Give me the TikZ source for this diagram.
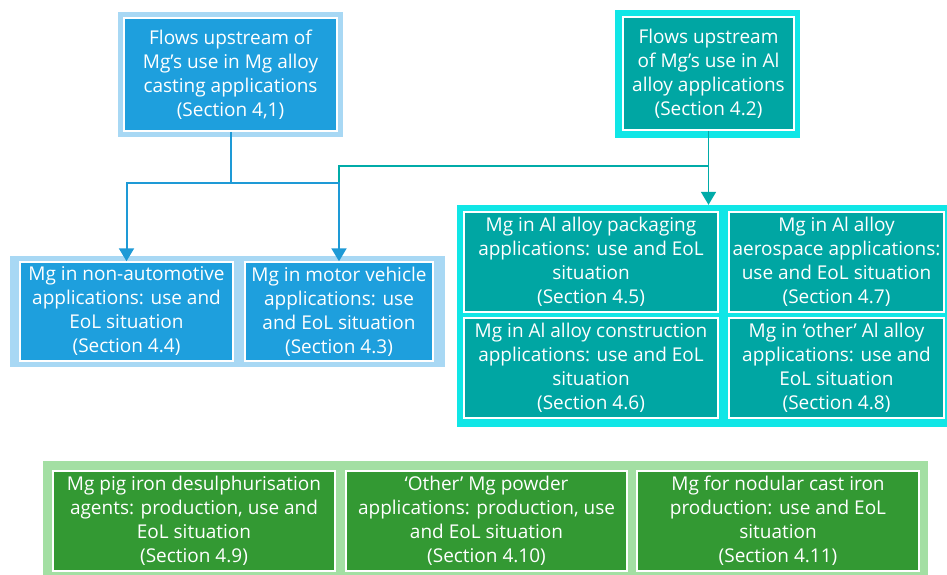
\documentclass[tikz,border=0pt]{standalone}
\usepackage{fontspec}
\setmainfont{Open Sans}
\usetikzlibrary{arrows.meta}

\definecolor{mgframe}{HTML}{A8D8F4}
\definecolor{mgfill}{HTML}{1E9FDD}
\definecolor{alframe}{HTML}{10E6E6}
\definecolor{alfill}{HTML}{00A6A3}
\definecolor{feframe}{HTML}{A3DFA3}
\definecolor{fefill}{HTML}{339933}
\definecolor{mgline}{HTML}{1E9AD6}
\definecolor{alline}{HTML}{00ABA8}

\tikzset{
  grp/.style={rectangle, inner sep=0pt, draw=none},
  box/.style={rectangle, inner sep=0pt, draw=white, line width=1.5pt,
    text=white, align=center, font=\fontsize{19}{24}\selectfont},
  mgbox/.style={box, fill=mgfill},
  albox/.style={box, fill=alfill},
  febox/.style={box, fill=fefill},
  mgflow/.style={draw=mgline, line width=2pt},
  alflow/.style={draw=alline, line width=1.6pt},
  tip/.style={-{Triangle[length=13pt,width=15pt]}},
}

\begin{document}
\begin{tikzpicture}[x=1pt,y=-1pt]
\useasboundingbox (0,0) rectangle (947,574);
\clip (0,0) rectangle (947,574);

% group frames
\node[grp, fill=mgframe, minimum width=225, minimum height=125] (gmg) at (230.5,74.5) {};
\node[grp, fill=alframe, minimum width=185, minimum height=128] (gal) at (707.5,74) {};
\node[grp, fill=mgframe, minimum width=435, minimum height=111] (gleft) at (227.5,311.5) {};
\node[grp, fill=alframe, minimum width=495, minimum height=222] (gright) at (704.5,316) {};
\node[grp, fill=feframe, minimum width=885, minimum height=117] (gbot) at (485.5,519.5) {};

% upstream boxes
\node[mgbox, minimum width=213, minimum height=113] (tl) at (230.5,74.5)
  {Flows upstream of\\Mg’s use in Mg alloy\\casting applications\\(Section 4,1)};
\node[albox, minimum width=171, minimum height=113] (tr) at (708.5,73.5)
  {Flows upstream\\of Mg’s use in Al\\alloy applications\\(Section 4.2)};

% Mg alloy applications
\node[mgbox, minimum width=213, minimum height=99] (b44) at (126.5,311.5)
  {Mg in non-automotive\\applications: use and\\EoL situation\\(Section 4.4)};
\node[mgbox, minimum width=188, minimum height=99] (b43) at (339,311.5)
  {Mg in motor vehicle\\applications: use\\and EoL situation\\(Section 4.3)};

% Al alloy applications
\node[albox, minimum width=254, minimum height=100] (a45) at (591,262)
  {Mg in Al alloy packaging\\applications: use and EoL\\situation\\(Section 4.5)};
\node[albox, minimum width=215, minimum height=100] (a47) at (836.5,262)
  {Mg in Al alloy\\aerospace applications:\\use and EoL situation\\(Section 4.7)};
\node[albox, minimum width=254, minimum height=100] (a46) at (591,368)
  {Mg in Al alloy construction\\applications: use and EoL\\situation\\(Section 4.6)};
\node[albox, minimum width=215, minimum height=100] (a48) at (836.5,368)
  {Mg in ‘other’ Al alloy\\applications: use and\\EoL situation\\(Section 4.8)};

% iron and powder applications
\node[febox, minimum width=282, minimum height=100] (c49) at (194,521)
  {Mg pig iron desulphurisation\\agents: production, use and\\EoL situation\\(Section 4.9)};
\node[febox, minimum width=281, minimum height=100] (c410) at (486.5,521)
  {‘Other’ Mg powder\\applications: production, use\\and EoL situation\\(Section 4.10)};
\node[febox, minimum width=282, minimum height=100] (c411) at (778,521)
  {Mg for nodular cast iron\\production: use and EoL\\situation\\(Section 4.11)};

% junctions
\coordinate (jmg) at (230.5,183);
\coordinate (jal) at (708.5,166);

% connectors
\draw[alflow] (tr.south) -- (jal) -| (b43.north |- jmg);
\draw[alflow, tip] (jal) -- (jal |- gright.north);
\draw[mgflow] (tl.south) -- (jmg);
\draw[mgflow, tip] (jmg) -| (b44.north);
\draw[mgflow, tip] (jmg) -| (b43.north);
\end{tikzpicture}
\end{document}
